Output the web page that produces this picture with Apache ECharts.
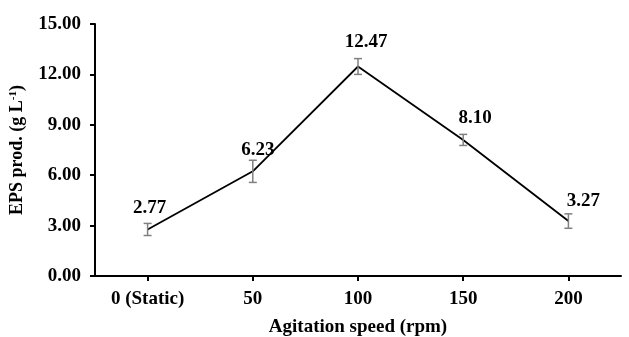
<!DOCTYPE html>
<html>
<head>
<meta charset="utf-8">
<script src="https://cdn.jsdelivr.net/npm/echarts@6/dist/echarts.min.js"></script>
<style>
html,body{margin:0;padding:0;background:#fff;}
#chart{width:629px;height:337px;}
</style>
</head>
<body>
<div id="chart"></div>
<script>
const categories = ['0 (Static)', '50', '100', '150', '200'];
const epsValues = [2.77, 6.23, 12.47, 8.10, 3.27];
const epsErrors = [0.36, 0.66, 0.47, 0.33, 0.43];
const yTicks = [0, 3, 6, 9, 12, 15];

const labelOffsets = [[2, -21], [5, -21], [8, -24], [12, -22], [15, -20]];
const FONT = "'Liberation Serif', 'Times New Roman', serif";
const FS = 19;

const chart = echarts.init(document.getElementById('chart'), null, {renderer: 'canvas'});

const option = {
  backgroundColor: '#ffffff',
  animation: false,
  grid: {left: 95, top: 24, right: 8, bottom: 61, containLabel: false, outerBoundsMode: 'none'},
  xAxis: {
    type: 'category',
    data: categories,
    boundaryGap: true,
    name: 'Agitation speed (rpm)',
    nameLocation: 'middle',
    nameGap: 42,
    nameTextStyle: {fontFamily: FONT, fontWeight: 'bold', fontSize: FS, color: '#000'},
    axisLine: {show: true, lineStyle: {color: '#000', width: 2}},
    axisTick: {show: true, alignWithLabel: true, length: 5, lineStyle: {color: '#000', width: 2}},
    axisLabel: {fontFamily: FONT, fontWeight: 'bold', fontSize: FS, color: '#000', margin: 14},
    splitLine: {show: false}
  },
  yAxis: {
    type: 'value',
    min: yTicks[0],
    max: yTicks[yTicks.length - 1],
    interval: yTicks[1] - yTicks[0],
    name: '{t|EPS prod. (g L}{s|-1}{t|)}',
    nameLocation: 'middle',
    nameRotate: 90,
    nameGap: 68,
    nameTextStyle: {
      rich: {
        t: {fontFamily: FONT, fontWeight: 'bold', fontSize: 18, color: '#000'},
        s: {fontFamily: FONT, fontWeight: 'bold', fontSize: 11, color: '#000', verticalAlign: 'top', padding: [0, 0, 8, 0]}
      }
    },
    axisLine: {show: true, lineStyle: {color: '#000', width: 2}},
    axisTick: {show: true, inside: false, length: 5, lineStyle: {color: '#000', width: 2}},
    axisLabel: {
      fontFamily: FONT, fontWeight: 'bold', fontSize: FS, color: '#000', margin: 14,
      formatter: v => v.toFixed(2)
    },
    splitLine: {show: false}
  },
  series: [
    {
      type: 'line',
      data: epsValues,
      symbol: 'none',
      lineStyle: {color: '#000', width: 1.8},
      z: 2
    },
    {
      type: 'custom',
      data: epsValues.map((v, i) => [i, v, epsErrors[i]]),
      renderItem: function (params, api) {
        const i = api.value(0), v = api.value(1), e = api.value(2);
        const pt = api.coord([i, v]);
        const lo = api.coord([i, v - e]);
        const hi = api.coord([i, v + e]);
        const hw = 4;
        const style = {stroke: '#808080', lineWidth: 1.5};
        const off = labelOffsets[params.dataIndex];
        return {
          type: 'group',
          children: [
            {type: 'line', shape: {x1: lo[0], y1: lo[1], x2: hi[0], y2: hi[1]}, style: style},
            {type: 'line', shape: {x1: lo[0] - hw, y1: lo[1], x2: lo[0] + hw, y2: lo[1]}, style: style},
            {type: 'line', shape: {x1: hi[0] - hw, y1: hi[1], x2: hi[0] + hw, y2: hi[1]}, style: style},
            {type: 'text', x: pt[0] + off[0], y: pt[1] + off[1],
             style: {text: v.toFixed(2), fill: '#000', align: 'center', verticalAlign: 'middle',
                     font: 'bold ' + FS + 'px ' + FONT}}
          ]
        };
      },
      z: 3
    }
  ]
};
chart.setOption(option);
</script>
</body>
</html>
